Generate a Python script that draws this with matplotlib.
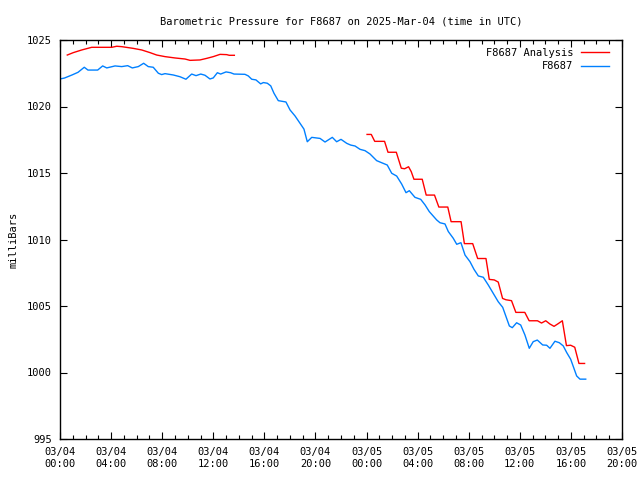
import matplotlib
matplotlib.use("Agg")
import matplotlib.pyplot as plt
import matplotlib.dates as mdates
import numpy as np
import pandas as pd

# hours after 2025-03-04 00:00 UTC, pressure in mb
obs_hours = [0.00, 0.35, 0.94, 1.41, 1.90, 2.19, 2.95, 3.34, 3.66, 4.31, 4.83, 5.30,
             5.66, 6.13, 6.55, 6.91, 7.30, 7.70, 7.96, 8.22, 8.87, 9.39, 9.86, 10.31,
             10.65, 11.02, 11.35, 11.74, 12.00, 12.32, 12.58, 13.00, 13.36, 13.62, 14.48,
             14.74, 15.01, 15.34, 15.71, 15.92, 16.23, 16.50, 16.75, 17.09, 17.69, 18.01,
             18.40, 18.79, 19.10, 19.36, 19.71, 20.36, 20.75, 21.32, 21.66, 22.00, 22.45,
             22.76, 23.10, 23.49, 23.88, 24.27, 24.79, 25.19, 25.62, 25.97, 26.36, 26.75,
             27.09, 27.35, 27.79, 28.24, 28.58, 28.91, 29.49, 29.75, 30.14, 30.40, 30.79,
             31.06, 31.39, 31.71, 32.10, 32.41, 32.75, 33.14, 33.53, 33.92, 34.31, 34.66,
             34.92, 35.18, 35.41, 35.75, 36.07, 36.40, 36.74, 37.05, 37.37, 37.79, 38.10,
             38.36, 38.75, 39.09, 39.40, 39.67, 39.98, 40.19, 40.45, 40.71, 41.16]
obs_mb = [1022.07, 1022.14, 1022.37, 1022.57, 1022.95, 1022.74, 1022.74, 1023.05, 1022.90,
          1023.05, 1023.00, 1023.07, 1022.90, 1023.00, 1023.25, 1023.00, 1022.95, 1022.50,
          1022.40, 1022.47, 1022.37, 1022.24, 1022.05, 1022.44, 1022.32, 1022.44, 1022.35,
          1022.07, 1022.15, 1022.54, 1022.44, 1022.60, 1022.54, 1022.44, 1022.42, 1022.30,
          1022.05, 1022.00, 1021.70, 1021.80, 1021.75, 1021.55, 1021.00, 1020.44, 1020.34,
          1019.74, 1019.29, 1018.74, 1018.30, 1017.35, 1017.68, 1017.60, 1017.33, 1017.68,
          1017.35, 1017.53, 1017.23, 1017.10, 1017.03, 1016.78, 1016.68, 1016.43, 1015.93,
          1015.77, 1015.60, 1014.98, 1014.77, 1014.17, 1013.52, 1013.67, 1013.17, 1013.02,
          1012.60, 1012.10, 1011.47, 1011.26, 1011.17, 1010.60, 1010.09, 1009.64, 1009.76,
          1008.83, 1008.33, 1007.76, 1007.26, 1007.16, 1006.58, 1005.95, 1005.32, 1004.90,
          1004.20, 1003.50, 1003.37, 1003.74, 1003.57, 1002.82, 1001.82, 1002.32, 1002.44,
          1002.07, 1002.05, 1001.82, 1002.35, 1002.24, 1002.00, 1001.50, 1001.00, 1000.44,
          999.74, 999.50, 999.50]

ana1_hours = [0.57, 1.04, 1.70, 2.48, 4.05, 4.44, 4.83, 5.74, 6.40, 7.05, 7.57, 8.22,
              9.00, 9.79, 10.18, 10.96, 11.49, 12.00, 12.53, 13.05, 13.25, 13.65]
ana1_mb = [1023.87, 1024.05, 1024.25, 1024.45, 1024.45, 1024.53, 1024.50, 1024.37, 1024.25,
           1024.05, 1023.87, 1023.75, 1023.65, 1023.57, 1023.47, 1023.50, 1023.62, 1023.75,
           1023.92, 1023.90, 1023.85, 1023.85]

ana2_hours = [24.04, 24.37, 24.64, 25.41, 25.68, 26.33, 26.72, 26.98, 27.29, 27.50, 27.71,
              28.36, 28.67, 29.32, 29.66, 30.36, 30.62, 31.40, 31.66, 32.31, 32.70, 33.35,
              33.61, 34.00, 34.31, 34.65, 34.91, 35.35, 35.69, 36.39, 36.73, 37.38, 37.70,
              38.03, 38.35, 38.68, 39.00, 39.33, 39.65, 39.98, 40.30, 40.63, 41.07]
ana2_mb = [1017.90, 1017.90, 1017.38, 1017.38, 1016.56, 1016.56, 1015.36, 1015.32, 1015.47,
           1015.10, 1014.53, 1014.53, 1013.34, 1013.34, 1012.44, 1012.44, 1011.34, 1011.34,
           1009.69, 1009.69, 1008.57, 1008.57, 1007.00, 1006.96, 1006.80, 1005.57, 1005.47,
           1005.40, 1004.52, 1004.52, 1003.89, 1003.89, 1003.72, 1003.89, 1003.65, 1003.47,
           1003.67, 1003.89, 1002.02, 1002.05, 1001.90, 1000.68, 1000.68]

start = pd.Timestamp("2025-03-04 00:00")


def to_time(hours):
    return start + pd.to_timedelta(np.array(hours), unit="h")


font = "DejaVu Sans Mono"
plt.rcParams["font.family"] = font
plt.rcParams["font.size"] = 7.5

fig = plt.figure(figsize=(6.4, 4.8), dpi=100)
ax = fig.add_axes([60 / 640, 1 - 439 / 480, 562 / 640, 399 / 480])

red = "#ff0000"
blue = "#0080ff"
ax.plot(to_time(ana1_hours), ana1_mb, color=red, lw=1, label="F8687 Analysis")
ax.plot(to_time(ana2_hours), ana2_mb, color=red, lw=1)
ax.plot(to_time(obs_hours), obs_mb, color=blue, lw=1, label="F8687")

ax.set_xlim(start, start + pd.Timedelta(hours=44))
ax.set_ylim(995, 1025)
ax.set_yticks(range(995, 1026, 5))
ax.xaxis.set_major_locator(mdates.HourLocator(byhour=range(0, 24, 4)))
ax.xaxis.set_minor_locator(mdates.HourLocator())
ax.xaxis.set_major_formatter(mdates.DateFormatter("%m/%d\n%H:%M"))
ax.tick_params(which="both", direction="in", top=True, right=True, width=0.8, color="black")
ax.tick_params(which="major", length=5, pad=6)
ax.tick_params(which="minor", length=3)
for s in ax.spines.values():
    s.set_linewidth(1)

ax.set_title("Barometric Pressure for F8687 on 2025-Mar-04 (time in UTC)", fontsize=7.5, pad=11)
ax.set_ylabel("milliBars", labelpad=6)

ax.legend(loc="upper right", frameon=False, markerfirst=False, handlelength=2.6,
          borderaxespad=0.35, labelspacing=0.35, handletextpad=0.8,
          bbox_to_anchor=(0.99, 1.0))

fig.savefig("out.png", dpi=100)
